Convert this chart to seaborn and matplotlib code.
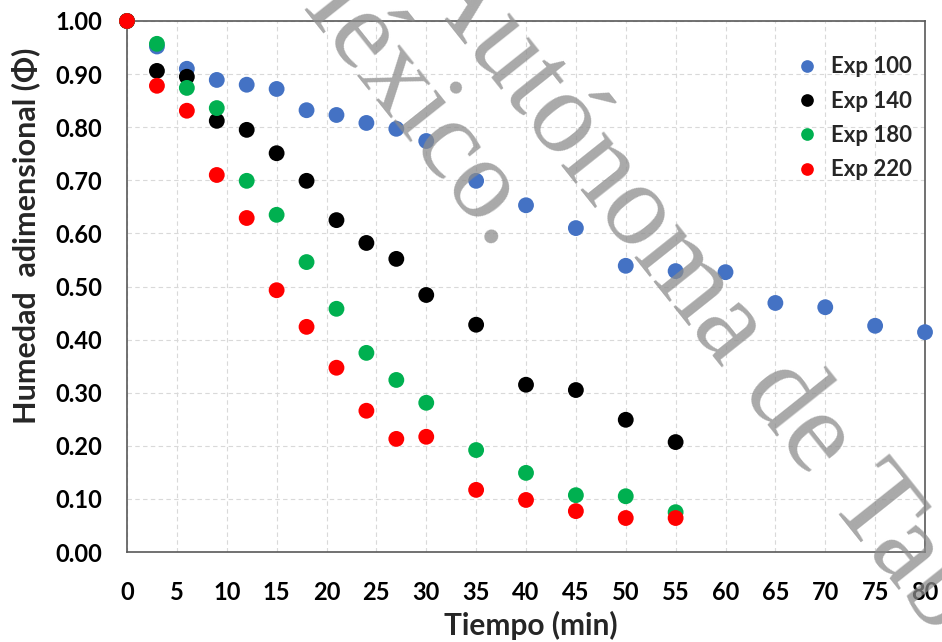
import pandas as pd
import matplotlib.pyplot as plt
import seaborn as sns

# Datos
tiempo_100 = [0, 3, 6, 9, 12, 15, 18, 21, 24, 27, 30, 35, 40, 45, 50, 55, 60, 65, 70, 75, 80]
phi_100 = [1.00, 0.952, 0.910, 0.889, 0.880, 0.872, 0.832, 0.823, 0.808, 0.797, 0.774,
           0.699, 0.653, 0.610, 0.539, 0.529, 0.527, 0.469, 0.461, 0.426, 0.414]

tiempo_140 = [0, 3, 6, 9, 12, 15, 18, 21, 24, 27, 30, 35, 40, 45, 50, 55]
phi_140 = [1.00, 0.906, 0.895, 0.812, 0.795, 0.751, 0.699, 0.625, 0.582, 0.552, 0.484,
           0.428, 0.315, 0.305, 0.249, 0.207]

tiempo_180 = [0, 3, 6, 9, 12, 15, 18, 21, 24, 27, 30, 35, 40, 45, 50, 55]
phi_180 = [1.00, 0.957, 0.874, 0.836, 0.699, 0.635, 0.546, 0.458, 0.375, 0.324, 0.281,
           0.192, 0.149, 0.107, 0.105, 0.075]

tiempo_220 = [0, 3, 6, 9, 12, 15, 18, 21, 24, 27, 30, 35, 40, 45, 50, 55]
phi_220 = [1.00, 0.878, 0.831, 0.710, 0.629, 0.493, 0.424, 0.347, 0.266, 0.213, 0.217,
           0.117, 0.098, 0.077, 0.064, 0.064]

series = ["Exp 100", "Exp 140", "Exp 180", "Exp 220"]
colores = {"Exp 100": "#4472C4", "Exp 140": "#000000", "Exp 180": "#00B050", "Exp 220": "#FF0000"}

# tabla larga para seaborn
partes = []
for nombre, t, p in zip(series,
                        [tiempo_100, tiempo_140, tiempo_180, tiempo_220],
                        [phi_100, phi_140, phi_180, phi_220]):
    partes.append(pd.DataFrame({"tiempo": t, "phi": p, "exp": nombre}))
datos = pd.concat(partes, ignore_index=True)

sns.set_theme(style="white")
plt.rcParams['font.family'] = ['Lato', 'DejaVu Sans']
plt.rcParams['font.weight'] = 'bold'

fig = plt.figure(figsize=(9.42, 6.42), dpi=100)
ax = fig.add_axes([127 / 942, 90 / 642, 798 / 942, 531 / 642])

sns.scatterplot(data=datos, x="tiempo", y="phi", hue="exp", hue_order=series,
                palette=colores, s=130, linewidth=0, ax=ax, clip_on=False, zorder=3)

ax.set_xlim(0, 80)
ax.set_ylim(0, 1)
ax.set_xticks(range(0, 81, 5))
ax.set_yticks([i / 10 for i in range(11)])
ax.set_yticklabels([f"{i / 10:.2f}" for i in range(11)])
ax.grid(True, color="#D9D9D9", linestyle=(0, (4, 3)), linewidth=0.8)
for lado in ax.spines.values():
    lado.set_color("#595959")
    lado.set_linewidth(1.2)
ax.tick_params(axis="both", length=0, labelsize=17, colors="black")
ax.tick_params(axis="y", pad=18)
ax.tick_params(axis="x", pad=21)

ax.set_xlabel("Tiempo (min)", fontsize=21.5, fontweight="bold")
ax.xaxis.set_label_coords((531 - 127) / 798, -(611 - 552) / 531)
ax.set_ylabel("Humedad  adimensional (Φ)", fontsize=22, fontweight="bold")
ax.yaxis.set_label_coords(-0.109, 0.595)

handles, labels = ax.get_legend_handles_labels()
ax.legend(handles, labels, loc="upper right", bbox_to_anchor=(0.995, 0.95),
          frameon=False, prop={"weight": "bold", "size": 16}, markerscale=0.8,
          handletextpad=0.1, labelspacing=0.6, borderaxespad=0)

# marca de agua
marca = dict(color="#8C8C8C", alpha=0.75, rotation=-51.5, rotation_mode="anchor",
             family="Liberation Serif", fontweight="normal", zorder=10,
             ha="left", va="baseline")
fig.text(260 / 942, 1 + 41 / 642, "México.", fontsize=82, **marca)
fig.text(412 / 942, 1 + 22 / 642, "Autónoma de Tabasco", fontsize=85, **marca)

fig.savefig("out.png", dpi=100)
